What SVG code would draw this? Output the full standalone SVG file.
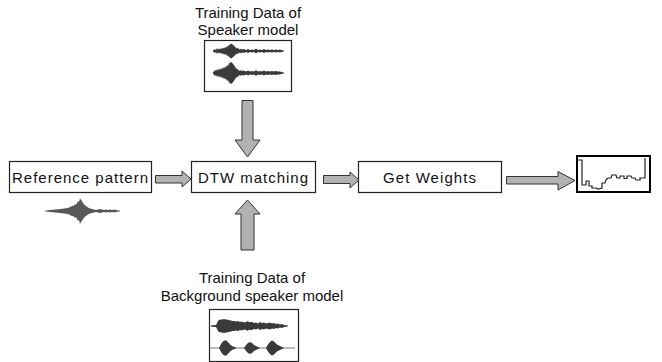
<svg xmlns="http://www.w3.org/2000/svg" width="662" height="362" viewBox="0 0 662 362">
<defs>
<style>
.box{fill:#fff;stroke:#222;stroke-width:1.2}
.lbl{font-family:"Liberation Sans",Arial,sans-serif;font-size:15px;fill:#111}
.cap{font-family:"Liberation Sans",Arial,sans-serif;font-size:15px;fill:#111;text-anchor:middle}
.arrow{fill:#b2b2b2;stroke:#333;stroke-width:1}
.wave{fill:#3a3a3a}
.axis{stroke:#555;stroke-width:0.8}
</style>
<filter id="soft" x="-10%" y="-50%" width="120%" height="200%"><feGaussianBlur stdDeviation="0.6"/></filter>
</defs>

<g id="speaker-data">
<text class="cap" x="248" y="18">Training Data of</text>
<text class="cap" x="248" y="35">Speaker model</text>
<rect class="box" x="204.5" y="40.5" width="87" height="51"/>
<line class="axis" x1="213" y1="51" x2="284" y2="51"/>
<path class="wave" d="M213,50.5 L215,49 216,50 217,48 218,49.5 219,48.5 220,49.5 221,48 222,49 223,47.5 224,48.5 225,47 226,48 227,46 228,46.5 229,45 230,44.5 231,43.5 232,44 233,45 234,45.5 235,47 236,47.5 237,48.5 238,48 239,49 240,49.5 241,48.5 242,49.5 244,49 246,50 248,49 250,50 252,49.5 254,50 256,48.5 258,50 260,49.5 262,50 264,49 266,50 268,49.5 270,50 272,49.5 274,50 276,49.5 278,50 280,49.5 283,50.5 284,51 283,51.5 280,52.5 278,52 276,52.5 274,52 272,52.5 270,52 268,52.5 266,52 264,53 262,52 260,52.5 258,52 256,53.5 254,52 252,52.5 250,52 248,53 246,52 244,53 242,52.5 241,53.5 240,52.5 239,53 238,54 237,53.5 236,54.5 235,55 234,56.5 233,57 232,58 231,58.5 230,57.5 229,57 228,55.5 227,56 226,54 225,55 224,53.5 223,54.5 222,53 221,54 220,52.5 219,53.5 218,52.5 217,54 216,52 215,53 213,51.5 Z"/>
<line class="axis" x1="213" y1="73" x2="284" y2="73"/>
<path class="wave" d="M213,72.5 L215,70 216,71 217,69 218,70.5 219,68.5 220,70 221,68 222,69.5 223,67 224,68.5 225,66.5 226,67.5 227,65 228,66 229,63.5 230,63 231,62 232,62.5 233,64 234,65 235,67 236,68 237,69.5 238,69 239,70.5 240,71 241,70 242,71 244,70.5 246,71.5 248,70.5 250,71.5 252,71 254,71.5 256,70 258,71.5 260,71 262,71.5 264,70.5 266,71.5 268,71 270,71.5 272,71 274,71.5 276,71 278,71.5 280,71.5 283,72.5 284,73 283,73.5 280,74.5 278,74.5 276,75 274,74.5 272,75 270,74.5 268,75 266,74.5 264,75.5 262,74.5 260,75 258,74.5 256,76 254,74.5 252,75 250,74.5 248,75.5 246,74.5 244,75.5 242,75 241,76 240,75 239,75.5 238,77 237,76.5 236,78 235,79 234,81 233,82 232,83.5 231,84 230,83 229,82.5 228,80 227,81 226,78.5 225,79.5 224,77.5 223,79 222,76.5 221,78 220,76 219,77.5 218,75.5 217,77 216,75 215,76 213,73.5 Z"/>
</g>

<g id="reference-pattern">
<rect class="box" x="9.5" y="161.5" width="142" height="31"/>
<text class="lbl" x="12" y="183" textLength="136" lengthAdjust="spacing">Reference pattern</text>
<g filter="url(#soft)" opacity="0.85">
<line class="axis" x1="45" y1="211" x2="120" y2="211"/>
<path class="wave" d="M45,211 L50,210 55,209.5 60,209 64,208.5 68,208 70,207 72,206 74,205.5 75,204 76,205 77,203 78,201 79,202 80,198 81,200 82,201 83,203 84,204 85,205.5 86,206 88,207.5 90,208.5 92,209 94,209.5 96,210 98,209.5 100,209 102,209.5 104,210 106,209.5 108,210 110,209.5 112,210 114,209.5 116,210 118,210.5 120,211 118,211.5 116,212 114,212.5 112,212 110,212.5 108,212 106,212.5 104,212 102,212.5 100,213 98,212.5 96,212 94,212.5 92,213 90,213.5 88,214.5 86,216 85,216.5 84,218 83,219 82,221 81,222 80,224 79,220 78,221 77,219 76,217 75,218 74,216.5 72,216 70,215 68,214 64,213.5 60,213 55,212.5 50,212 Z"/>
</g>
</g>

<g id="dtw-matching">
<rect class="box" x="191.5" y="161.5" width="124" height="31"/>
<text class="lbl" x="198" y="183" textLength="110" lengthAdjust="spacing">DTW matching</text>
</g>

<g id="get-weights">
<rect class="box" x="358.5" y="161.5" width="143" height="31"/>
<text class="lbl" x="383" y="183" textLength="93" lengthAdjust="spacing">Get Weights</text>
</g>

<g id="weights-output">
<rect x="577" y="156" width="73" height="36" fill="#fff" stroke="#000" stroke-width="2"/>
<polyline fill="none" stroke="#222" stroke-width="1.2" points="578,160 582,160 582,185 586,185 586,181 589,181 589,186 592,186 592,188 596,188 598,189 602,188 602,183 605,183 606,180 608,178 611,178 612,175 616,175 617,178 620,178 620,176 624,176 624,178.5 627,178.5 627,176 631,176 632,178 635,178 636,180 640,180 640,178 645,178 645,158"/>
</g>

<g id="background-data">
<text class="cap" x="252" y="283">Training Data of</text>
<text class="cap" x="252" y="301">Background speaker model</text>
<rect class="box" x="209.5" y="309.5" width="89" height="52"/>
<line class="axis" x1="211" y1="326" x2="288" y2="326"/>
<path class="wave" d="M211,325.5 L216,325 217,323 218,321 219,320 220,319.5 221,320 222,319 223,319.5 224,319 225,319.5 226,319 227,320 228,319.5 229,320.5 230,320 232,321 234,321 236,321.5 238,321 240,322 242,321.5 244,322.5 246,322 248,321 249,322.5 250,322 252,322 254,323 256,322.5 258,323.5 260,322 262,323 264,322.5 266,323.5 268,323 270,322.5 272,323.5 274,323 276,324 278,323.5 280,324.5 282,324 284,325 287,325.5 288,326 287,326.5 284,327 282,328 280,327.5 278,328.5 276,328 274,329 272,328.5 270,329.5 268,329 266,328.5 264,329.5 262,329 260,330 258,328.5 256,329.5 254,329 252,330 250,330 249,329.5 248,331 246,330 244,329.5 242,330.5 240,330 238,331 236,330.5 234,331 232,331 230,332 229,331.5 228,332.5 227,332 226,333 225,332.5 224,333 223,332.5 222,333 221,332 220,332.5 219,332 218,331 217,329 216,327 211,326.5 Z"/>
<line class="axis" x1="209" y1="348" x2="295" y2="348"/>
<path class="wave" d="M219,348 L220,346 221,344 222,342.5 223,341 224,341.5 225,340 226,340.5 227,341 228,342.5 229,343 230,344.5 231,345 232,346 233,346.5 235,347 236,348 235,349 233,349.5 232,350 231,351 230,351.5 229,353 228,353.5 227,355 226,355.5 225,356 224,354.5 223,355 222,353.5 221,352 220,350 Z"/>
<path class="wave" d="M244,348 L245,346.5 246,345 247,344 248,343 249,342.5 250,342 251,342.5 252,343 253,344 254,345 255,345.5 256,346 258,347 260,348 258,349 256,350 255,350.5 254,351 253,352 252,353 251,353.5 250,354 249,353.5 248,353 247,352 246,351 245,349.5 Z"/>
<path class="wave" d="M266,348 L267,346 268,344.5 269,343 270,342 271,341 272,340.5 273,341 274,341.5 275,342.5 276,343.5 277,344.5 278,345 280,346 282,347 284,348 282,349 280,350 278,351 277,351.5 276,352.5 275,353.5 274,354.5 273,355 272,355.5 271,355 270,354 269,353 268,351.5 267,350 Z"/>
</g>

<g id="connectors">
<polygon class="arrow" points="155.5,175.5 182,175.5 182,171 191,179 182,187 182,183 155.5,183"/>
<polygon class="arrow" points="323.5,175.5 350,175.5 350,172 359,180 350,188 350,183.5 323.5,183.5"/>
<polygon class="arrow" points="506.5,176.5 558,176.5 558,171.5 575,180.5 558,190 558,184 506.5,184"/>
<polygon class="arrow" points="242,100.5 253,100.5 253,140 260,140 247.5,157 235,140 242,140"/>
<polygon class="arrow" points="241,250 241,214 235,214 247.5,200 260,214 254,214 254,250"/>
</g>
</svg>
